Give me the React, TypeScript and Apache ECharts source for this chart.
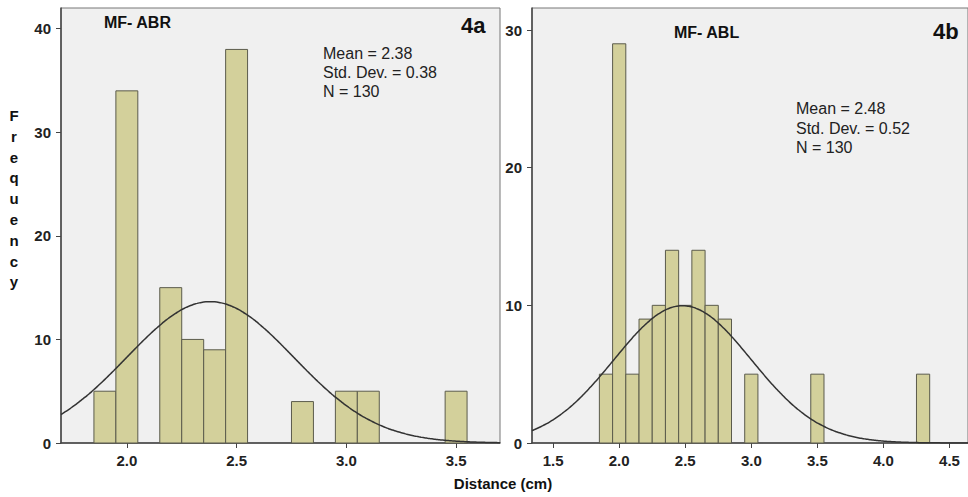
import React, { useEffect, useRef } from "react";
import * as echarts from "echarts";

// Panel 4a: MF- ABR
const abrBinCenters = [1.9, 2.0, 2.2, 2.3, 2.4, 2.5, 2.8, 3.0, 3.1, 3.5];
const abrCounts = [5, 34, 15, 10, 9, 38, 4, 5, 5, 5];
const abrStats = { mean: 2.38, sd: 0.38, n: 130 };
const abrXTicks = [2.0, 2.5, 3.0, 3.5];
const abrYTicks = [0, 10, 20, 30, 40];

// Panel 4b: MF- ABL
const ablBinCenters = [1.9, 2.0, 2.1, 2.2, 2.3, 2.4, 2.5, 2.6, 2.7, 2.8, 3.0, 3.5, 4.3];
const ablCounts = [5, 29, 5, 9, 10, 14, 10, 14, 10, 9, 5, 5, 5];
const ablStats = { mean: 2.48, sd: 0.52, n: 130 };
const ablXTicks = [1.5, 2.0, 2.5, 3.0, 3.5, 4.0, 4.5];
const ablYTicks = [0, 10, 20, 30];

const binWidth = 0.1;

// fitted normal curve (expected frequency per bin) from the stated mean / SD / N
function normalCurve(stats: { mean: number; sd: number; n: number }, from: number, to: number) {
  const pts: number[][] = [];
  const steps = 200;
  for (let i = 0; i <= steps; i++) {
    const x = from + ((to - from) * i) / steps;
    const z = (x - stats.mean) / stats.sd;
    const y = (stats.n * binWidth) / (stats.sd * Math.sqrt(2 * Math.PI)) * Math.exp(-0.5 * z * z);
    pts.push([x, y]);
  }
  return pts;
}

const BAR_FILL = "#d3d09b";
const BAR_STROKE = "#5b5b4c";
const FONT = "'Liberation Sans', Arial, sans-serif";

export default function App() {
  const ref = useRef<HTMLDivElement>(null);

  useEffect(() => {
    if (!ref.current) return;
    const chart = echarts.init(ref.current, undefined, { renderer: "svg" });

    const renderBar = (params: any, api: any) => {
      const x = api.value(0);
      const y = api.value(1);
      const p0 = api.coord([x - binWidth / 2, y]);
      const p1 = api.coord([x + binWidth / 2, 0]);
      return {
        type: "rect",
        shape: { x: p0[0], y: p0[1], width: p1[0] - p0[0], height: p1[1] - p0[1] },
        style: { fill: BAR_FILL, stroke: BAR_STROKE, lineWidth: 1 },
      };
    };

    const xAxisCommon = (min: number, max: number, ticks: number[], gridIndex: number) => ({
      type: "value",
      gridIndex,
      min,
      max,
      splitLine: { show: false },
      axisLine: { show: true, onZero: false, lineStyle: { color: "#444", width: 1.5 } },
      axisTick: { show: true, customValues: ticks, length: 5, lineStyle: { color: "#444" } },
      axisLabel: {
        customValues: ticks,
        formatter: (v: number) => v.toFixed(1),
        fontFamily: FONT,
        fontWeight: "bold",
        fontSize: 15,
        color: "#222",
        margin: 10,
      },
    });

    const yAxisCommon = (max: number, ticks: number[], gridIndex: number) => ({
      type: "value",
      gridIndex,
      min: 0,
      max,
      splitLine: { show: false },
      axisLine: { show: true, lineStyle: { color: "#444", width: 1.5 } },
      axisTick: { show: true, customValues: ticks, length: 5, lineStyle: { color: "#444" } },
      axisLabel: {
        customValues: ticks,
        fontFamily: FONT,
        fontWeight: "bold",
        fontSize: 15,
        color: "#222",
        margin: 10,
      },
    });

    const statsText = (s: { mean: number; sd: number; n: number }) =>
      `Mean = ${s.mean.toFixed(2)}\nStd. Dev. = ${s.sd.toFixed(2)}\nN = ${s.n}`;

    chart.setOption({
      animation: false,
      backgroundColor: "#ffffff",
      grid: [
        {
          left: 61,
          top: 8,
          width: 439,
          height: 435,
          show: true,
          backgroundColor: "#f0f0f0",
          borderColor: "#777",
          borderWidth: 1,
        },
        {
          left: 532,
          top: 8,
          width: 440,
          height: 435,
          show: true,
          backgroundColor: "#f0f0f0",
          borderColor: "#777",
          borderWidth: 1,
        },
      ],
      xAxis: [xAxisCommon(1.7, 3.7, abrXTicks, 0), xAxisCommon(1.34, 4.64, ablXTicks, 1)],
      yAxis: [yAxisCommon(42, abrYTicks, 0), yAxisCommon(31.6, ablYTicks, 1)],
      series: [
        {
          type: "custom",
          xAxisIndex: 0,
          yAxisIndex: 0,
          renderItem: renderBar,
          encode: { x: 0, y: 1 },
          data: abrBinCenters.map((c, i) => [c, abrCounts[i]]),
          z: 2,
        },
        {
          type: "line",
          xAxisIndex: 0,
          yAxisIndex: 0,
          data: normalCurve(abrStats, 1.7, 3.7),
          showSymbol: false,
          symbol: "none",
          smooth: true,
          lineStyle: { color: "#333", width: 1.5 },
          z: 3,
        },
        {
          type: "custom",
          xAxisIndex: 1,
          yAxisIndex: 1,
          renderItem: renderBar,
          encode: { x: 0, y: 1 },
          data: ablBinCenters.map((c, i) => [c, ablCounts[i]]),
          z: 2,
        },
        {
          type: "line",
          xAxisIndex: 1,
          yAxisIndex: 1,
          data: normalCurve(ablStats, 1.34, 4.64),
          showSymbol: false,
          symbol: "none",
          smooth: true,
          lineStyle: { color: "#333", width: 1.5 },
          z: 3,
        },
      ],
      graphic: [
        {
          type: "text",
          x: 104,
          y: 14,
          style: { text: "MF- ABR", font: `bold 16px ${FONT}`, fill: "#111" },
        },
        {
          type: "text",
          x: 461,
          y: 14,
          style: { text: "4a", font: `bold 22px ${FONT}`, fill: "#111" },
        },
        {
          type: "text",
          x: 323,
          y: 44,
          style: { text: statsText(abrStats), font: `16px ${FONT}`, lineHeight: 19, fill: "#222" },
        },
        {
          type: "text",
          x: 674,
          y: 24,
          style: { text: "MF- ABL", font: `bold 16px ${FONT}`, fill: "#111" },
        },
        {
          type: "text",
          x: 933,
          y: 20,
          style: { text: "4b", font: `bold 22px ${FONT}`, fill: "#111" },
        },
        {
          type: "text",
          x: 796,
          y: 99,
          style: { text: statsText(ablStats), font: `16px ${FONT}`, lineHeight: 19.5, fill: "#222" },
        },
        {
          type: "text",
          x: 14,
          y: 105,
          style: {
            text: "F\nr\ne\nq\nu\ne\nn\nc\ny",
            font: `bold 15px ${FONT}`,
            lineHeight: 20.8,
            align: "center",
            fill: "#111",
          },
        },
        {
          type: "text",
          x: 503,
          y: 476,
          style: {
            text: "Distance (cm)",
            font: `bold 15px ${FONT}`,
            align: "center",
            fill: "#111",
          },
        },
      ],
    });

    return () => chart.dispose();
  }, []);

  return (
    <div
      ref={ref}
      style={{ position: "absolute", left: 0, top: 0, width: 968, height: 497 }}
    />
  );
}
